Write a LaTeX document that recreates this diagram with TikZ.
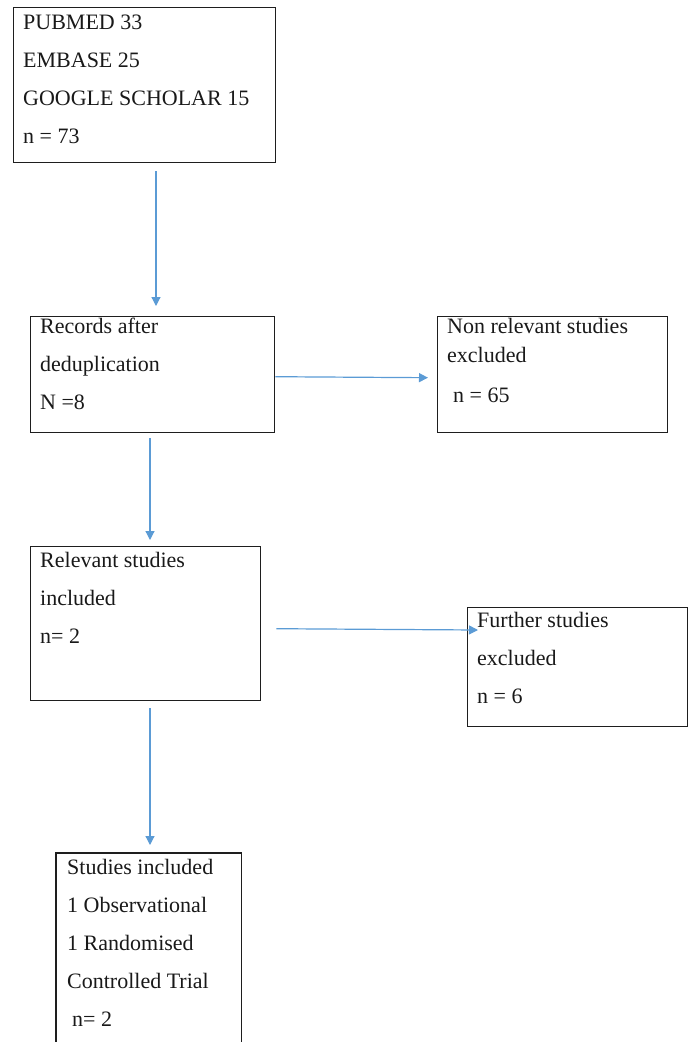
\documentclass[tikz,border=0pt]{standalone}
\usepackage{fontspec}
\setmainfont{Liberation Serif}
\usetikzlibrary{arrows.meta,calc}
\definecolor{arrblue}{RGB}{91,155,213}
\definecolor{boxline}{RGB}{30,30,30}
\begin{document}
\begin{tikzpicture}[x=1pt,y=-1pt,
  box/.style={draw=boxline,line width=1.4pt,inner sep=0pt,anchor=north west},
  openbox/.style={inner sep=0pt,anchor=north west},
  lbl/.style={anchor=base west,inner sep=0pt,font=\fontsize{22}{38}\selectfont,text=black!90},
  arr/.style={draw=arrblue,line width=1.2pt,-{Triangle[length=9pt,width=9pt]}}]
\useasboundingbox (0,0) rectangle (688,1042);
% boxes
\node[box,minimum width=262pt,minimum height=155pt] (b1) at (13,7) {};
\node[box,minimum width=244pt,minimum height=116pt] (b2) at (30,316) {};
\node[box,minimum width=230pt,minimum height=116pt] (b3) at (437,316) {};
\node[box,minimum width=230pt,minimum height=154pt] (b4) at (30,546) {};
\node[box,minimum width=220pt,minimum height=119pt] (b6) at (467,607) {};
\node[openbox,minimum width=185pt,minimum height=200pt] (b5) at (56,853) {};
\draw[boxline,line width=1.4pt] (b5.south west) -- (b5.north west) -- (b5.north east) -- (b5.south east);
% texts
\node[lbl] (t1) at (23,29) {\begin{tabular}[t]{@{}l@{}}PUBMED 33\\EMBASE 25\\GOOGLE SCHOLAR 15\\n = 73\end{tabular}};
\node[lbl] (t2) at (40,333) {\begin{tabular}[t]{@{}l@{}}Records after\\deduplication\\N =8\end{tabular}};
\node[lbl] (t3) at (447,333) {\begin{tabular}[t]{@{}l@{}}Non relevant studies\\[-9pt]excluded\\[2pt]\hspace{6pt}n = 65\end{tabular}};
\node[lbl] (t4) at (40,567) {\begin{tabular}[t]{@{}l@{}}Relevant studies\\included\\n= 2\end{tabular}};
\node[lbl] (t6) at (477,627) {\begin{tabular}[t]{@{}l@{}}Further studies\\excluded\\n = 6\end{tabular}};
\node[lbl] (t5) at (67,874) {\begin{tabular}[t]{@{}l@{}}Studies included\\1 Observational\\1 Randomised\\Controlled Trial\\\hspace{5pt}n= 2\end{tabular}};
% arrows
\draw[arr] ($(b1.south west)+(143,8)$) -- ($(b2.north west)+(126,-10)$);
\draw[arr] ($(b2.east)+(0,2)$) -- ($(b3.west)+(-9,3)$);
\draw[arr] ($(b2.south west)+(120,5)$) -- ($(b4.north west)+(120,-6)$);
\draw[arr] ($(b4.east)+(15,5)$) -- ($(b6.north west)+(11,23)$);
\draw[arr] ($(b4.south west)+(120,7)$) -- ($(b5.north west)+(94,-8)$);
\end{tikzpicture}
\end{document}
